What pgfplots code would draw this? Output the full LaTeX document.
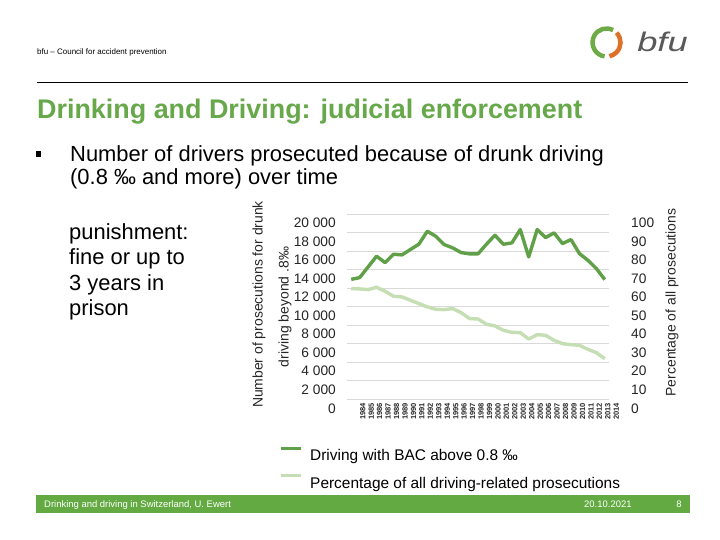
\documentclass[border=0pt]{standalone}
\usepackage{pgfplots}
\pgfplotsset{compat=1.18}
\usepackage{pgfplotstable}
\usepackage{fontspec}
\setmainfont{Liberation Sans}
\definecolor{dgreen}{RGB}{96,160,72}
\definecolor{lgreen}{RGB}{197,222,180}
\definecolor{tgreen}{RGB}{102,168,74}
\definecolor{fgreen}{RGB}{99,170,66}
\definecolor{gridc}{RGB}{217,217,217}
\definecolor{logoor}{RGB}{222,112,40}
\definecolor{logogr}{RGB}{110,170,70}

\pgfplotstableread{
x bac pct
0 12950 59.8
1 13140 59.6
2 14300 59.25
3 15450 60.5
4 14760 58.35
5 15660 55.65
6 15590 55.3
7 16170 53.5
8 16740 51.7
9 18140 49.9
10 17600 48.65
11 16700 48.45
12 16350 49.0
13 15840 46.85
14 15700 43.6
15 15700 43.4
16 16740 40.55
17 17710 39.65
18 16740 37.3
19 16880 36.2
20 18320 36.05
21 15370 32.6
22 18320 34.95
23 17460 34.6
24 17960 31.9
25 16810 30.1
26 17240 29.55
27 15730 29.2
28 15010 27.05
29 14120 25.25
30 12930 22.0
}\data

\begin{document}
\begin{tikzpicture}
\begin{scope}[x=1bp,y=1bp]
\useasboundingbox (0,0) rectangle (720,540);
\fill[white] (0,0) rectangle (720,540);
% header
\node[anchor=base west, inner sep=0, font=\fontsize{8}{9.6}\selectfont] at (37,485) {bfu – Council for accident prevention};
% logo
\draw[logogr, line width=4.5bp] (606.5,497.5) ++(62:14) arc[start angle=62, end angle=262, radius=14];
\draw[logoor, line width=4.5bp] (606.5,497.5) ++(44:14) arc[start angle=44, end angle=-78, radius=14];
\node[anchor=base west, inner sep=0, font=\fontsize{27}{30}\selectfont\itshape, text=black!65, xscale=1.35] at (637,488) {bfu};
\draw[black, line width=0.8bp] (37,458) -- (688,458);
% title
\node[anchor=base west, inner sep=0, text=tgreen, font=\fontsize{27}{30}\selectfont\bfseries] at (37,421.7) {Drinking and Driving: judicial enforcement};
% bullet
\fill[black] (36,383) rectangle (41,389);
\node[anchor=base west, inner sep=0, font=\fontsize{22}{26}\selectfont] at (70,378.3) {Number of drivers prosecuted because of drunk driving};
\node[anchor=base west, inner sep=0, font=\fontsize{22}{26}\selectfont] at (70,355) {(0.8 ‰ and more) over time};
% punishment
\node[anchor=base west, inner sep=0, font=\fontsize{22}{26}\selectfont] at (69,300) {punishment:};
\node[anchor=base west, inner sep=0, font=\fontsize{22}{26}\selectfont] at (69,275) {fine or up to};
\node[anchor=base west, inner sep=0, font=\fontsize{22}{26}\selectfont] at (69,249.5) {3 years in};
\node[anchor=base west, inner sep=0, font=\fontsize{22}{26}\selectfont] at (69,224) {prison};
% axis titles
\node[rotate=90, inner sep=0, font=\fontsize{14}{16}\selectfont, text=black!85] at (259,235.5) {Number of prosecutions for drunk};
\node[rotate=90, inner sep=0, font=\fontsize{14}{16}\selectfont, text=black!85] at (285,233) {driving beyond .8‰};
\node[rotate=90, inner sep=0, font=\fontsize{14}{16}\selectfont, text=black!85] at (672,237.5) {Percentage of all prosecutions};
% footer
\fill[fgreen] (36,27) rectangle (690,45);
\node[anchor=base west, inner sep=0, text=white, font=\fontsize{9.5}{11}\selectfont] at (44,32.6) {Drinking and driving in Switzerland, U. Ewert};
\node[anchor=base west, inner sep=0, text=white, font=\fontsize{9.5}{11}\selectfont] at (584,32.6) {20.10.2021};
\node[anchor=base, inner sep=0, text=white, font=\fontsize{9.5}{11}\selectfont] at (679,32.6) {8};
\end{scope}

\begin{axis}[
  at={(347bp,140.5bp)}, anchor=south west,
  width=262bp, height=185.5bp, scale only axis,
  xmin=-0.5, xmax=30.5, ymin=0, ymax=20000,
  scaled y ticks=false,
  axis line style={draw=none},
  major tick length=0,
  ymajorgrids, grid style={gridc, line width=0.9bp},
  ytick={0,2000,4000,6000,8000,10000,12000,14000,16000,18000,20000},
  yticklabels={0,2~000,4~000,6~000,8~000,10~000,12~000,14~000,16~000,18~000,20~000},
  yticklabel style={font=\fontsize{13.8}{15}\selectfont, text=black!85, anchor=east, inner sep=0, xshift=-11bp, yshift=-8.8bp},
  xtick={0,...,30},
  xticklabels={1984,1985,1986,1987,1988,1989,1990,1991,1992,1993,1994,1995,1996,1997,1998,1999,2000,2001,2002,2003,2004,2005,2006,2007,2008,2009,2010,2011,2012,2013,2014},
  xticklabel style={font=\fontsize{7.5}{8}\selectfont\bfseries, text=black!85, xshift=11.5bp, yshift=-3.5bp, rotate=90, anchor=east, inner sep=0},
  clip=false,
]
\addplot[dgreen, line width=3.4bp, line join=round] table[x=x, y=bac] {\data};
\end{axis}

\begin{axis}[
  at={(347bp,140.5bp)}, anchor=south west,
  width=262bp, height=185.5bp, scale only axis,
  xmin=-0.5, xmax=30.5, ymin=0, ymax=100,
  axis line style={draw=none},
  major tick length=0,
  xtick=\empty,
  ytick={0,10,20,30,40,50,60,70,80,90,100},
  yticklabels={0,10,20,30,40,50,60,70,80,90,100},
  yticklabel pos=right,
  yticklabel style={font=\fontsize{13.8}{15}\selectfont, text=black!85, anchor=west, inner sep=0, xshift=22bp, yshift=-8.8bp},
  clip=false,
  legend style={at={(-0.2595,-0.253)}, anchor=north west, draw=none, fill=none, inner sep=0,
    font=\fontsize{15.5}{18}\selectfont, row sep=10bp,
    /tikz/every odd column/.append style={column sep=6bp}},
  legend cell align=left,
  legend image code/.code={\draw[#1, line width=3bp] (0bp,8bp) -- (20bp,8bp);},
]
\addlegendimage{dgreen}
\addlegendentry{Driving with BAC above 0.8 ‰}
\addplot[lgreen, line width=3.4bp, line join=round] table[x=x, y=pct] {\data};
\addlegendentry{Percentage of all driving-related prosecutions}
\end{axis}
\end{tikzpicture}
\end{document}
